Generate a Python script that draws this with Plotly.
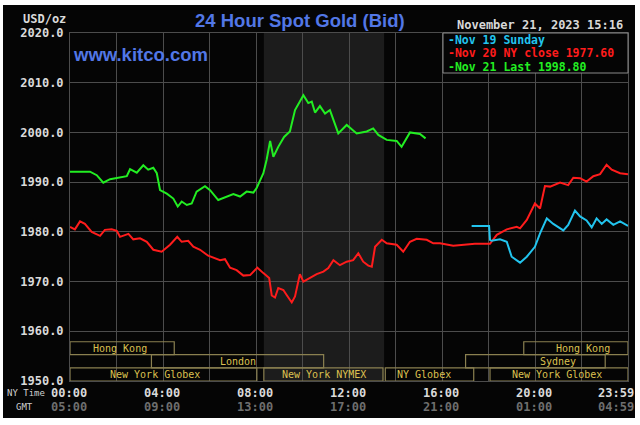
import plotly.graph_objects as go

# ---------------- data ----------------
# times in hours (New York time), prices in USD/oz
nov21_t = [0.00, 0.43, 0.86, 1.15, 1.43, 1.72, 2.01, 2.44, 2.58, 2.87, 3.15, 3.36, 3.58, 3.73, 3.87,
           4.16, 4.44, 4.63, 4.80, 5.02, 5.23, 5.44, 5.80, 6.02, 6.37, 6.70, 7.02, 7.31, 7.59, 7.88,
           8.02, 8.31, 8.45, 8.60, 8.74, 8.95, 9.20, 9.45, 9.67, 10.03, 10.24, 10.39, 10.53, 10.74,
           10.96, 11.17, 11.53, 11.89, 12.32, 12.75, 13.03, 13.25, 13.61, 14.04, 14.25, 14.61, 15.04, 15.28]
nov21_p = [1992.1, 1992.1, 1992.1, 1991.4, 1989.9, 1990.6, 1990.8, 1991.2, 1992.6, 1991.9, 1993.4,
           1992.5, 1992.9, 1991.8, 1988.4, 1987.7, 1986.7, 1985.1, 1986.1, 1985.4, 1985.7, 1988.1,
           1989.2, 1988.4, 1986.4, 1987.0, 1987.6, 1987.1, 1988.1, 1987.9, 1988.8, 1991.8, 1994.5,
           1998.3, 1995.1, 1997.1, 1999.1, 2000.2, 2004.5, 2007.5, 2005.9, 2006.2, 2004.0, 2005.3,
           2003.8, 2004.5, 1999.8, 2001.5, 1999.8, 2000.2, 2000.8, 1999.5, 1998.5, 1998.3, 1997.1,
           2000.0, 1999.7, 1998.8]

nov20_t = [0.00, 0.21, 0.43, 0.64, 0.93, 1.29, 1.50, 1.79, 2.01, 2.15, 2.51, 2.72, 3.01, 3.30, 3.58,
           3.94, 4.30, 4.61, 4.80, 5.08, 5.30, 5.59, 5.94, 6.23, 6.45, 6.66, 6.88, 7.16, 7.45, 7.74,
           8.05, 8.31, 8.56, 8.67, 8.81, 8.95, 9.17, 9.31, 9.53, 9.67, 9.88, 10.03, 10.31, 10.60,
           10.89, 11.10, 11.32, 11.60, 11.89, 12.17, 12.39, 12.60, 12.82, 12.97, 13.11, 13.40, 13.61,
           14.04, 14.32, 14.61, 14.90, 15.33, 15.61, 15.90, 16.47, 16.90, 17.40, 18.05, 18.34, 18.77,
           19.20, 19.34, 19.63, 19.98, 20.20, 20.41, 20.63, 21.06, 21.41, 21.63, 21.92, 22.20, 22.49,
           22.78, 23.06, 23.28, 23.64, 23.98]
nov20_p = [1981.0, 1980.5, 1982.1, 1981.6, 1980.0, 1979.2, 1980.4, 1980.5, 1980.2, 1979.0, 1979.6,
           1978.5, 1978.7, 1978.0, 1976.4, 1976.0, 1977.4, 1979.0, 1978.0, 1978.2, 1977.0, 1976.4,
           1975.2, 1974.7, 1974.3, 1974.5, 1972.8, 1972.3, 1971.2, 1971.3, 1972.8, 1971.7, 1970.7,
           1967.2, 1966.8, 1968.7, 1968.3, 1967.3, 1965.8, 1967.0, 1971.5, 1970.0, 1970.7, 1971.5,
           1972.0, 1972.7, 1974.3, 1973.3, 1974.0, 1974.3, 1975.7, 1974.0, 1973.2, 1973.0, 1977.0,
           1978.4, 1977.7, 1977.4, 1976.0, 1978.0, 1978.6, 1978.4, 1977.7, 1977.7, 1977.2, 1977.4,
           1977.6, 1977.6, 1979.4, 1980.5, 1981.0, 1980.7, 1982.4, 1985.7, 1984.7, 1989.2, 1989.1,
           1989.9, 1989.4, 1990.9, 1990.8, 1990.1, 1991.2, 1991.6, 1993.5, 1992.5, 1991.8, 1991.6]

nov19_t = [17.26, 18.01, 18.05, 18.12, 18.48, 18.77, 18.98, 19.34, 19.63, 19.98, 20.20, 20.49, 20.77,
           21.20, 21.41, 21.70, 21.92, 22.20, 22.42, 22.63, 22.85, 23.06, 23.35, 23.64, 23.98]
nov19_p = [1981.2, 1981.2, 1978.4, 1978.2, 1978.5, 1978.0, 1975.0, 1973.8, 1975.0, 1977.0, 1979.7,
           1982.7, 1981.6, 1980.3, 1981.4, 1984.3, 1983.1, 1982.3, 1980.9, 1982.7, 1981.6, 1982.5,
           1981.4, 1982.1, 1981.2]

legend_texts = ["-Nov 19 Sunday", "-Nov 20 NY close 1977.60", "-Nov 21 Last 1998.80"]
timestamp = "November 21, 2023 15:16"

y_ticks = [1950, 1960, 1970, 1980, 1990, 2000, 2010, 2020]
ny_ticks = [0, 4, 8, 12, 16, 20]
ny_labels = ["00:00", "04:00", "08:00", "12:00", "16:00", "20:00"]
gmt_labels = ["05:00", "09:00", "13:00", "17:00", "21:00", "01:00"]
end_ny, end_gmt = "23:59", "04:59"

# trading sessions: name, start hour, end hour, row (0 = bottom)
sess_names = ["New York Globex", "New York NYMEX", "NY Globex", "New York Globex",
              "London", "Sydney", "Hong Kong", "Hong Kong"]
sess_start = [0.0, 8.33, 13.55, 18.05, 3.5, 17.0, 0.0, 19.5]
sess_end = [8.03, 13.45, 17.35, 23.98, 10.9, 23.0, 4.48, 23.98]
sess_row = [0, 0, 0, 0, 1, 1, 2, 2]
sess_label_x = [3.65, 10.9, 15.2, 20.95, 7.2, 20.97, 2.15, 22.05]
row_edges = [1950.0, 1952.65, 1955.3, 1957.9]

nymex_start, nymex_end = 8.33, 13.5

# ---------------- figure ----------------
CYAN, RED, GREEN = "#22c4ee", "#ff1c1c", "#22ee22"
GOLD, OLIVE = "#dcc050", "#8a8050"
GRID = "#4c4c4c"
BLUE = "#5277e6"
MONO = "DejaVu Sans Mono"

fig = go.Figure()
fig.add_trace(go.Scatter(x=nov21_t, y=nov21_p, mode="lines", line=dict(color=GREEN, width=2)))
fig.add_trace(go.Scatter(x=nov20_t, y=nov20_p, mode="lines", line=dict(color=RED, width=2)))
fig.add_trace(go.Scatter(x=nov19_t, y=nov19_p, mode="lines", line=dict(color=CYAN, width=2)))

L, R, T, B = 70, 12, 33, 44
W, H = 640, 425
pw, ph = W - L - R, H - T - B


def px(xp):
    return (xp - L) / pw


def py(yp):
    return (H - B - yp) / ph


shapes = [
    # black card on white page
    dict(type="rect", xref="paper", yref="paper", x0=px(3), x1=px(635), y0=py(418), y1=py(5),
         fillcolor="#050505", line=dict(width=0), layer="below"),
    # NYMEX shaded hours
    dict(type="rect", xref="x", yref="paper", x0=nymex_start, x1=nymex_end, y0=0, y1=1,
         fillcolor="#1c1c1c", line=dict(width=0), layer="below"),
    # legend box
    dict(type="rect", xref="paper", yref="paper", x0=px(443), x1=1.0, y0=py(73), y1=1.0,
         fillcolor="#050505", line=dict(color="#8a8a8a", width=1), layer="above"),
]
for s, e, r in zip(sess_start, sess_end, sess_row):
    shapes.append(dict(type="rect", xref="x", yref="y", x0=s, x1=e,
                       y0=row_edges[r], y1=row_edges[r + 1],
                       fillcolor="rgba(0,0,0,0)", line=dict(color=OLIVE, width=1.2), layer="above"))

ann = []
for name, lx, r in zip(sess_names, sess_label_x, sess_row):
    ann.append(dict(x=lx, y=(row_edges[r] + row_edges[r + 1]) / 2, xref="x", yref="y",
                    text=name, showarrow=False, font=dict(family=MONO, size=10, color=GOLD),
                    xanchor="center", yanchor="middle", borderpad=0))

for tv, a, g in zip(ny_ticks, ny_labels, gmt_labels):
    ann.append(dict(x=tv, y=py(392.5), xref="x", yref="paper", text=a, showarrow=False,
                    font=dict(family=MONO, size=12, color="#dadada", weight="bold"),
                    xanchor="center", yanchor="middle", xshift=-1, borderpad=0))
    ann.append(dict(x=tv, y=py(406.5), xref="x", yref="paper", text=g, showarrow=False,
                    font=dict(family=MONO, size=12, color="#6e6e6e", weight="bold"),
                    xanchor="center", yanchor="middle", xshift=-1, borderpad=0))
ann.append(dict(x=1.0, y=py(392.5), xref="paper", yref="paper", text=end_ny, showarrow=False,
                font=dict(family=MONO, size=12, color="#dadada", weight="bold"),
                xanchor="right", yanchor="middle", xshift=7, borderpad=0))
ann.append(dict(x=1.0, y=py(406.5), xref="paper", yref="paper", text=end_gmt, showarrow=False,
                font=dict(family=MONO, size=12, color="#6e6e6e", weight="bold"),
                xanchor="right", yanchor="middle", xshift=7, borderpad=0))

ann.append(dict(x=px(6), y=py(392.5), xref="paper", yref="paper", text="NY Time", showarrow=False,
                font=dict(family=MONO, size=9, color="#cfcfcf"), xanchor="left", yanchor="middle",
                borderpad=0))
ann.append(dict(x=px(24), y=py(406.5), xref="paper", yref="paper", text="GMT", showarrow=False,
                font=dict(family=MONO, size=9, color="#cfcfcf"), xanchor="center", yanchor="middle",
                borderpad=0))
ann.append(dict(x=px(67), y=py(19), xref="paper", yref="paper", text="USD/oz", showarrow=False,
                font=dict(family=MONO, size=12, color="#dadada", weight="bold"),
                xanchor="right", yanchor="middle", borderpad=0))

ann.append(dict(x=px(300), y=py(20), xref="paper", yref="paper", text="24 Hour Spot Gold (Bid)",
                showarrow=False, font=dict(family="Liberation Sans", size=18.5, color=BLUE,
                                           weight="bold"),
                xanchor="center", yanchor="middle", borderpad=0))
ann.append(dict(x=px(72), y=py(55), xref="paper", yref="paper", text="www.kitco.com",
                showarrow=False, font=dict(family="Liberation Sans", size=18.5, color=BLUE,
                                           weight="bold"),
                xanchor="left", yanchor="middle", borderpad=0))
ann.append(dict(x=px(540), y=py(25), xref="paper", yref="paper", text=timestamp,
                showarrow=False, font=dict(family=MONO, size=12, color="#d8d8d8", weight="bold"),
                xanchor="center", yanchor="middle", borderpad=0))

for txt, col, yy in zip(legend_texts, [CYAN, RED, GREEN], [39.5, 53, 66.5]):
    ann.append(dict(x=px(447), y=py(yy), xref="paper", yref="paper", text=txt, showarrow=False,
                    font=dict(family=MONO, size=11.5, color=col, weight="bold"),
                    xanchor="left", yanchor="middle", borderpad=0))

fig.update_layout(
    width=W, height=H,
    margin=dict(l=L, r=R, t=T, b=B, pad=0),
    paper_bgcolor="white", plot_bgcolor="#050505",
    showlegend=False,
    shapes=shapes, annotations=ann,
    xaxis=dict(range=[0, 23.98], tickmode="linear", tick0=0, dtick=2, showticklabels=False,
               showgrid=True, gridcolor=GRID, gridwidth=1, zeroline=False,
               showline=True, linecolor=GRID, mirror=True, ticks=""),
    yaxis=dict(range=[1950, 2020], tickvals=y_ticks, tickformat=".1f",
               tickfont=dict(family=MONO, size=12, color="#dadada", weight="bold"),
               showgrid=True, gridcolor=GRID, gridwidth=1, zeroline=False,
               showline=True, linecolor=GRID, mirror=True, ticks="", ticklabelstandoff=3),
)

fig.write_html("out.html")
